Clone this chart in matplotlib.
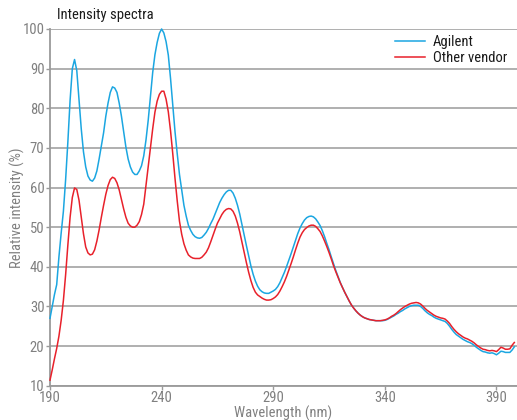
import matplotlib
matplotlib.use("Agg")
import matplotlib.pyplot as plt
from matplotlib import font_manager

# the reference uses a condensed face, take the first narrow one that is installed
installed = {f.name for f in font_manager.fontManager.ttflist}
narrow = [n for n in ['Liberation Sans Narrow', 'Roboto Condensed', 'Open Sans Condensed',
                      'DejaVu Sans Condensed', 'Noto Sans Condensed'] if n in installed]
plt.rcParams['font.family'] = narrow + ['DejaVu Sans']
plt.rcParams['font.stretch'] = 'condensed'

wavelength = list(range(190, 399))

agilent = [
    27.0, 30.0, 33.0, 35.5, 42.5, 48.5, 54.0, 62.0, 71.5, 82.0,   # 190-199
    90.0, 92.3, 89.5, 82.0, 74.8, 69.0, 65.2, 62.9, 61.9, 61.6,   # 200-209
    62.4, 64.2, 67.2, 70.5, 73.8, 78.0, 81.3, 84.0, 85.4, 85.1,   # 210-219
    84.0, 81.3, 78.0, 74.0, 70.2, 67.2, 65.2, 63.9, 63.3, 63.3,   # 220-229
    64.2, 65.5, 68.0, 72.0, 77.0, 83.0, 89.0, 93.5, 96.6, 98.9,   # 230-239
    100.0, 99.0, 96.8, 93.4, 87.5, 80.8, 74.1, 68.5, 63.3, 59.3,  # 240-249
    55.5, 52.8, 50.5, 49.2, 48.2, 47.6, 47.3, 47.2, 47.4, 48.0,   # 250-259
    48.7, 49.7, 50.9, 52.0, 53.4, 54.8, 56.2, 57.3, 58.2, 58.9,   # 260-269
    59.3, 59.3, 58.6, 57.3, 55.5, 53.3, 50.6, 47.9, 45.3, 42.8,   # 270-279
    40.2, 38.1, 36.4, 35.1, 34.2, 33.7, 33.4, 33.3, 33.3, 33.6,   # 280-289
    33.9, 34.3, 35.0, 36.0, 37.3, 38.6, 40.1, 41.7, 43.3, 45.0,   # 290-299
    46.7, 48.4, 49.8, 50.9, 51.8, 52.4, 52.7, 52.8, 52.6, 52.1,   # 300-309
    51.3, 50.4, 49.1, 47.6, 45.9, 44.3, 42.5, 40.8, 39.1, 37.6,   # 310-319
    36.1, 34.8, 33.6, 32.5, 31.4, 30.4, 29.6, 28.9, 28.3, 27.8,   # 320-329
    27.4, 27.1, 26.9, 26.7, 26.6, 26.5, 26.4, 26.4, 26.4, 26.4,   # 330-339
    26.5, 26.7, 27.0, 27.3, 27.6, 28.0, 28.3, 28.7, 29.0, 29.4,   # 340-349
    29.7, 30.0, 30.2, 30.3, 30.3, 30.3, 30.0, 29.5, 28.9, 28.4,   # 350-359
    28.0, 27.7, 27.3, 27.0, 26.8, 26.6, 26.4, 26.2, 25.7, 25.0,   # 360-369
    24.2, 23.5, 22.9, 22.5, 22.1, 21.7, 21.4, 21.1, 20.9, 20.6,   # 370-379
    20.2, 19.7, 19.3, 18.9, 18.6, 18.5, 18.3, 18.2, 18.3, 18.1,   # 380-389
    17.8, 18.2, 18.7, 18.6, 18.4, 18.4, 18.4, 19.0, 19.8,         # 390-398
]

other_vendor = [
    11.4, 14.0, 16.8, 19.4, 22.5, 26.5, 31.5, 38.0, 45.5, 52.5,   # 190-199
    57.5, 59.9, 59.5, 56.8, 52.6, 48.3, 45.0, 43.5, 43.0, 43.2,   # 200-209
    44.3, 46.5, 49.3, 52.5, 55.5, 58.3, 60.5, 62.0, 62.6, 62.3,   # 210-219
    61.2, 59.4, 57.0, 54.6, 52.5, 51.0, 50.3, 50.0, 50.0, 50.5,   # 220-229
    51.4, 53.2, 55.8, 60.5, 65.0, 70.0, 74.8, 79.0, 81.8, 83.5,   # 230-239
    84.3, 84.3, 82.3, 79.1, 74.3, 68.5, 62.3, 56.6, 51.5, 48.2,   # 240-249
    45.8, 44.2, 43.0, 42.5, 42.2, 42.1, 42.1, 42.1, 42.4, 43.0,   # 250-259
    43.7, 44.8, 46.3, 47.9, 49.5, 51.0, 52.1, 53.2, 54.0, 54.5,   # 260-269
    54.7, 54.6, 54.0, 52.8, 51.0, 48.8, 46.2, 43.7, 41.0, 38.6,   # 270-279
    36.5, 34.8, 33.6, 32.9, 32.5, 32.1, 31.8, 31.6, 31.6, 31.7,   # 280-289
    32.0, 32.4, 33.0, 33.9, 35.0, 36.2, 37.6, 39.2, 40.8, 42.5,   # 290-299
    44.3, 46.0, 47.5, 48.6, 49.4, 49.9, 50.3, 50.5, 50.5, 50.2,   # 300-309
    49.6, 48.9, 47.8, 46.5, 45.1, 43.6, 42.0, 40.3, 38.8, 37.4,   # 310-319
    36.0, 34.8, 33.6, 32.5, 31.4, 30.4, 29.6, 28.9, 28.3, 27.8,   # 320-329
    27.4, 27.1, 26.9, 26.7, 26.6, 26.5, 26.4, 26.4, 26.4, 26.5,   # 330-339
    26.6, 26.8, 27.1, 27.5, 27.8, 28.2, 28.7, 29.2, 29.6, 30.0,   # 340-349
    30.3, 30.6, 30.8, 30.9, 31.0, 30.9, 30.6, 30.1, 29.5, 29.0,   # 350-359
    28.6, 28.2, 27.8, 27.5, 27.3, 27.1, 27.0, 26.8, 26.3, 25.7,   # 360-369
    24.9, 24.2, 23.6, 23.1, 22.7, 22.3, 22.0, 21.8, 21.5, 21.2,   # 370-379
    20.8, 20.3, 19.9, 19.5, 19.2, 19.1, 18.9, 18.8, 18.9, 18.8,   # 380-389
    18.6, 19.1, 19.7, 19.5, 19.2, 19.2, 19.3, 20.2, 20.9,         # 390-398
]

x_ticks = [190, 240, 290, 340, 390]
y_ticks = [10, 20, 30, 40, 50, 60, 70, 80, 90, 100]

BLUE = '#1ba6e1'
RED = '#e8212b'
GRID = '#9a9a9a'
TICK_TEXT = '#808080'
FS = 10.5 if narrow else 9

fig = plt.figure(figsize=(5.17, 4.2), dpi=100)
ax = fig.add_axes([50 / 517, 34.3 / 420, 467 / 517, 356.7 / 420])

ax.plot(wavelength, agilent, color=BLUE, lw=1.1, label='Agilent', clip_on=False, zorder=3)
ax.plot(wavelength, other_vendor, color=RED, lw=1.1, label='Other vendor', clip_on=False, zorder=3)

ax.set_xlim(190, 399.2)
ax.set_ylim(10, 100)
ax.set_xticks(x_ticks)
ax.set_yticks(y_ticks)
ax.yaxis.grid(True, color=GRID, lw=1.1)
ax.set_axisbelow(True)

for side in ['top', 'right']:
    ax.spines[side].set_visible(False)
for side in ['left', 'bottom']:
    ax.spines[side].set_color(GRID)
    ax.spines[side].set_linewidth(1.3)

ax.tick_params(axis='both', colors=GRID, length=3, width=1, labelsize=FS,
               labelcolor=TICK_TEXT, pad=1)

ax.set_xlabel('Wavelength (nm)', fontsize=FS, color=TICK_TEXT, labelpad=0)
ax.set_ylabel('Relative intensity (%)', fontsize=FS, color=TICK_TEXT, labelpad=-2)

fig.text(57 / 517, 1 - 15 / 420, 'Intensity spectra', fontsize=FS, color='#1a1a1a',
         ha='left', va='center')

ax.legend(loc='upper right', bbox_to_anchor=(1.0, 1.012), frameon=False, fontsize=FS,
          handlelength=2.1, handletextpad=0.5, labelspacing=0.15, borderaxespad=0.3,
          labelcolor='#1a1a1a')

fig.savefig('out.png', dpi=100)
